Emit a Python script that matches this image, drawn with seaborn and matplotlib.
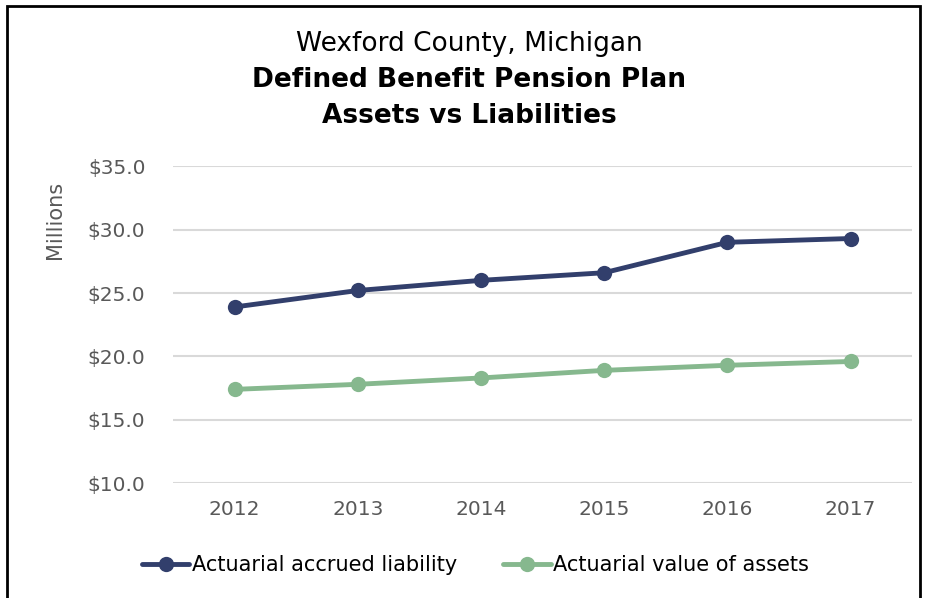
import numpy as np
import pandas as pd
import matplotlib
matplotlib.use("Agg")
import matplotlib.pyplot as plt
from matplotlib.patches import Rectangle
from matplotlib.lines import Line2D
import seaborn as sns

# data (millions of dollars)
years = [2012, 2013, 2014, 2015, 2016, 2017]
liability = [23.9, 25.2, 26.0, 26.6, 29.0, 29.3]
assets = [17.4, 17.8, 18.3, 18.9, 19.3, 19.6]
series_names = ["Actuarial accrued liability", "Actuarial value of assets"]
y_ticks = [10, 15, 20, 25, 30, 35]

sns.set_theme(style="white")
plt.rcParams['font.family'] = ['DejaVu Sans']

df = pd.DataFrame({
    "year": years * 2,
    "value": liability + assets,
    "series": [series_names[0]] * len(years) + [series_names[1]] * len(years),
})

navy = "#323F6C"
green = "#86B88E"
grey_txt = "#595959"

fig = plt.figure(figsize=(9.26, 5.98), dpi=100)
ax = fig.add_axes([0.187, 0.192, 0.798, 0.530])

for ln in y_ticks:
    ax.axhline(ln, color="#D9D9D9", lw=1.5, zorder=0)

sns.lineplot(data=df, x="year", y="value", hue="series",
             palette=[navy, green], marker="o", markersize=11,
             markeredgewidth=0, linewidth=3.5, legend=False, ax=ax)

ax.set_xlim(2011.5, 2017.5)
ax.set_ylim(10, 35)
ax.set_xticks(years)
ax.set_xticklabels([str(y) for y in years])
ax.set_yticks(y_ticks)
ax.set_yticklabels([f"${v:.1f}" for v in y_ticks])
ax.tick_params(axis="both", length=0, labelsize=14.5, colors=grey_txt)
ax.tick_params(axis="x", pad=12)
ax.tick_params(axis="y", pad=20)
for s in ax.spines.values():
    s.set_visible(False)
ax.set_xlabel("")
ax.set_ylabel("Millions", fontsize=15, color=grey_txt)
ax.yaxis.set_label_coords(-0.147, 0.83)

# titles
fig.text(0.507, 0.926, "Wexford County, Michigan", ha="center", va="center",
         fontsize=19, color="black")
fig.text(0.507, 0.866, "Defined Benefit Pension Plan", ha="center", va="center",
         fontsize=19, fontweight="bold", color="black")
fig.text(0.507, 0.806, "Assets vs Liabilities", ha="center", va="center",
         fontsize=19, fontweight="bold", color="black")

handles = [Line2D([], [], color=c, lw=3.5, marker="o", markersize=11, markeredgewidth=0)
           for c in [navy, green]]
fig.legend(handles, series_names, loc="center", bbox_to_anchor=(0.513, 0.055),
           ncol=2, frameon=False, fontsize=15, handlelength=2.3,
           handletextpad=0.1, columnspacing=2.2, labelcolor="black")

# outer frame
fig.patches.append(Rectangle((0.008, -0.01), 0.986, 1.0, transform=fig.transFigure,
                             fill=False, edgecolor="black", lw=2))

fig.savefig("out.png", dpi=100)
